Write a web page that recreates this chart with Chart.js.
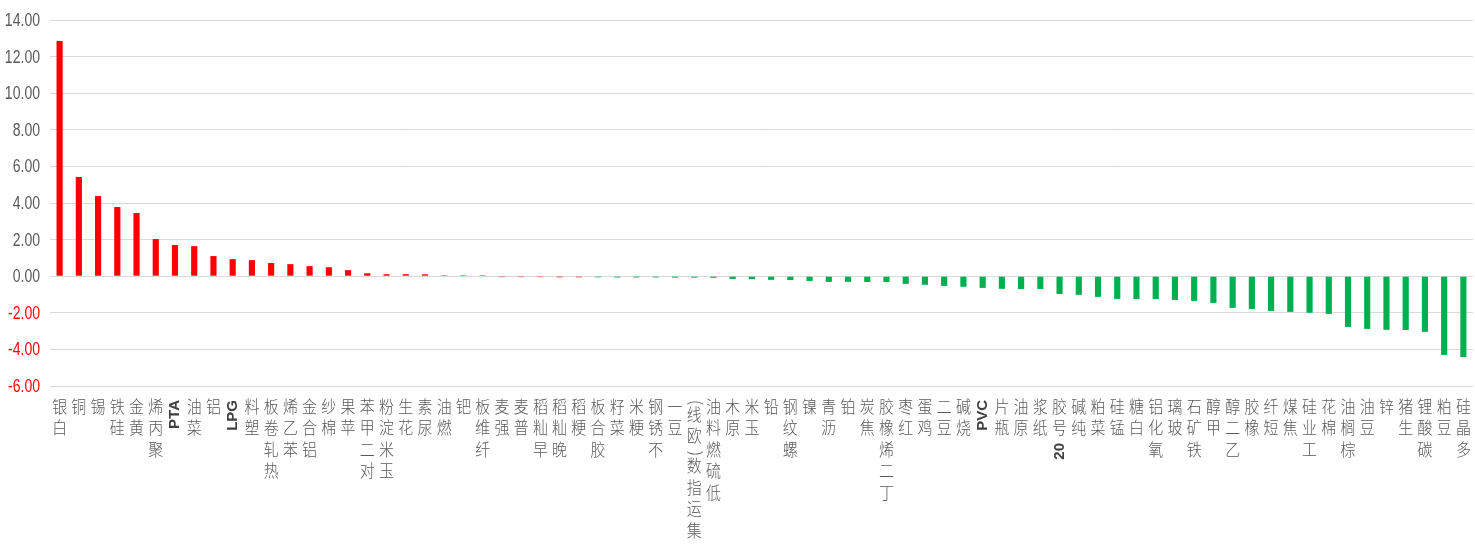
<!DOCTYPE html>
<html>
<head>
<meta charset="utf-8">
<script src="https://cdn.jsdelivr.net/npm/chart.js@4/dist/chart.umd.min.js"></script>
<style>
    html, body { margin: 0; padding: 0; background: #ffffff; }
    #wrap { width: 1475px; height: 552px; }
</style>
</head>
<body>
<div id="wrap"><canvas id="futuresChart" width="1475" height="552"></canvas></div>
<script>
// Danh mục hàng hóa
const categories = [
    "白银", "铜", "锡", "硅铁", "黄金", "聚丙烯", "PTA", "菜油", "铝", "LPG",
    "塑料", "热轧卷板", "苯乙烯", "铝合金", "棉纱", "苹果", "对二甲苯", "玉米淀粉", "花生", "尿素",
    "燃油", "钯", "纤维板", "强麦", "普麦", "早籼稻", "晚籼稻", "粳稻", "胶合板", "菜籽",
    "粳米", "不锈钢", "豆一", "集运指数(欧线)", "低硫燃料油", "原木", "玉米", "铅", "螺纹钢", "镍",
    "沥青", "铂", "焦炭", "丁二烯橡胶", "红枣", "鸡蛋", "豆二", "烧碱", "PVC", "瓶片",
    "原油", "纸浆", "20号胶", "纯碱", "菜粕", "锰硅", "白糖", "氧化铝", "玻璃", "铁矿石",
    "甲醇", "乙二醇", "橡胶", "短纤", "焦煤", "工业硅", "棉花", "棕榈油", "豆油", "锌",
    "生猪", "碳酸锂", "豆粕", "多晶硅"
];

// Mức thay đổi (%)
const changes = [
    12.85, 5.42, 4.38, 3.78, 3.45, 2.03, 1.70, 1.64, 1.10, 0.93,
    0.88, 0.72, 0.66, 0.55, 0.49, 0.33, 0.16, 0.11, 0.11, 0.10,
    0.05, 0.05, 0.05, -0.05, -0.05, -0.05, -0.06, -0.06, -0.06, -0.07,
    -0.07, -0.07, -0.08, -0.08, -0.09, -0.15, -0.16, -0.20, -0.21, -0.26,
    -0.31, -0.31, -0.32, -0.32, -0.42, -0.47, -0.53, -0.58, -0.64, -0.69,
    -0.70, -0.70, -0.97, -1.02, -1.13, -1.24, -1.25, -1.25, -1.30, -1.35,
    -1.46, -1.73, -1.79, -1.90, -1.95, -2.00, -2.06, -2.77, -2.88, -2.93,
    -2.94, -3.04, -4.30, -4.42
];

// Nhãn trục Y
const yTicks = [-6, -4, -2, 0, 2, 4, 6, 8, 10, 12, 14];

const RED = "#ff0000";
const GREEN = "#00b050";
const RED_BARS = 28; // số cột màu đỏ (tính từ trái)

const cjkFont = "300 17px 'Noto Sans CJK SC', sans-serif";
const latinFont = "bold 15px 'Liberation Sans', Arial, sans-serif";
const punctFont = "300 16px 'Noto Sans CJK SC', sans-serif";
const tickFont = "18px 'Liberation Sans', Arial, sans-serif";

function isCjk(ch) {
    return ch.charCodeAt(0) > 0x2e80;
}

// Tách nhãn thành các đoạn: chữ Hán đứng riêng, chữ Latin gộp lại
function splitLabel(text) {
    const parts = [];
    let run = "";
    for (const ch of text) {
        if (isCjk(ch)) {
            if (run) { parts.push(run); run = ""; }
            parts.push(ch);
        } else {
            run += ch;
        }
    }
    if (run) parts.push(run);
    return parts;
}

// Vẽ nhãn trục X theo chiều dọc (đọc từ dưới lên)
const verticalLabels = {
    id: "verticalLabels",
    afterDraw(chart) {
        const ctx = chart.ctx;
        const xScale = chart.scales.x;
        const top = 400;
        const pitch = 21.5;
        ctx.save();
        categories.forEach((label, i) => {
            const x = xScale.getPixelForValue(i);
            let y = top;
            const parts = splitLabel(label).reverse();
            parts.forEach(part => {
                if (part.length === 1 && isCjk(part)) {
                    ctx.save();
                    ctx.font = cjkFont;
                    ctx.fillStyle = "#595959";
                    ctx.textAlign = "center";
                    ctx.textBaseline = "top";
                    ctx.translate(x, y - 2);
                    ctx.scale(0.88, 1); // chữ hơi hẹp như bản gốc
                    ctx.fillText(part, 0, 0);
                    ctx.restore();
                    y += pitch;
                } else {
                    const bold = /[A-Za-z0-9]/.test(part);
                    ctx.font = bold ? latinFont : punctFont;
                    const w = ctx.measureText(part).width;
                    ctx.save();
                    ctx.translate(x, y + w);
                    ctx.rotate(-Math.PI / 2);
                    ctx.textAlign = "left";
                    ctx.textBaseline = "middle";
                    ctx.fillStyle = bold ? "#404040" : "#595959";
                    ctx.fillText(part, 0, 0);
                    ctx.restore();
                    y += w + 3;
                }
            });
        });
        ctx.restore();
    }
};

// Nhãn trục Y kiểu chữ hẹp
const narrowYTicks = {
    id: "narrowYTicks",
    afterDraw(chart) {
        const ctx = chart.ctx;
        const yScale = chart.scales.y;
        ctx.save();
        ctx.font = tickFont;
        ctx.textAlign = "right";
        ctx.textBaseline = "middle";
        yTicks.forEach(v => {
            const y = yScale.getPixelForValue(v);
            ctx.save();
            ctx.translate(40, y + 1);
            ctx.scale(0.78, 1);
            ctx.fillStyle = v < 0 ? RED : "#595959";
            ctx.fillText(v.toFixed(2), 0, 0);
            ctx.restore();
        });
        ctx.restore();
    }
};

const ctx = document.getElementById("futuresChart").getContext("2d");
new Chart(ctx, {
    type: "bar",
    data: {
        labels: categories,
        datasets: [{
            data: changes,
            backgroundColor: c => (c.dataIndex < RED_BARS ? RED : GREEN),
            borderWidth: 0,
            barPercentage: 0.32,
            categoryPercentage: 1.0
        }]
    },
    options: {
        responsive: false,
        animation: false,
        events: [],
        layout: {
            padding: { top: 20, right: 2, bottom: 166, left: 0 }
        },
        plugins: {
            legend: { display: false },
            tooltip: { enabled: false }
        },
        scales: {
            x: {
                grid: { display: false },
                border: { display: false },
                ticks: { display: false },
                afterFit: s => { s.height = 0; }
            },
            y: {
                min: yTicks[0],
                max: yTicks[yTicks.length - 1],
                afterBuildTicks: s => { s.ticks = yTicks.map(v => ({ value: v })); },
                afterFit: s => { s.width = 50; },
                grid: {
                    color: "#d9d9d9",
                    lineWidth: 1,
                    drawTicks: false
                },
                border: { display: false },
                ticks: { display: false }
            }
        }
    },
    plugins: [verticalLabels, narrowYTicks]
});
</script>
</body>
</html>
